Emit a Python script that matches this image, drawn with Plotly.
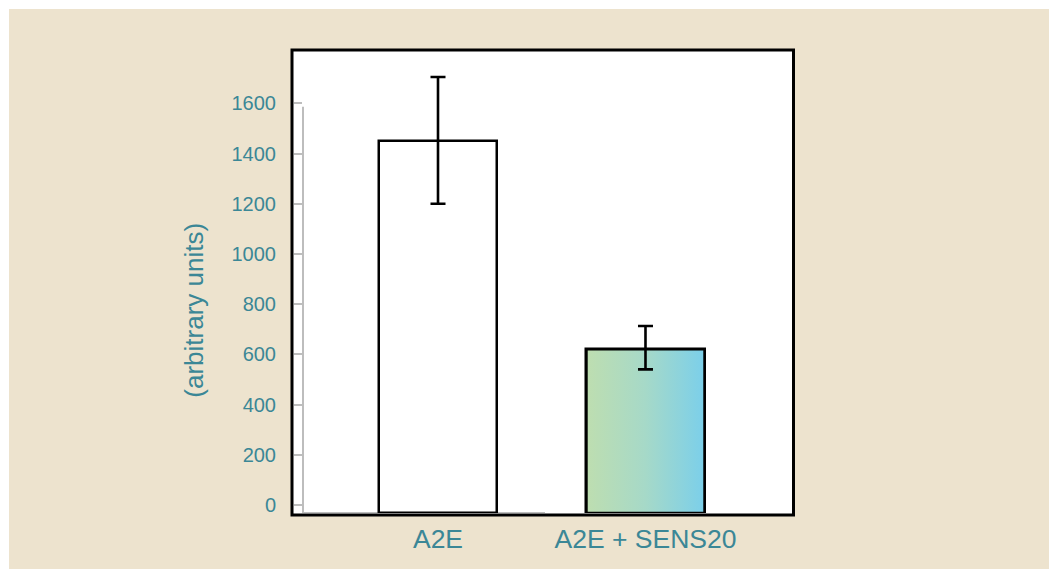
import plotly.graph_objects as go

# ---- data ----
categories = ["A2E", "A2E + SENS20"]
values = [1450, 620]
err_plus = [255, 93]
err_minus = [250, 80]
tick_values = [0, 200, 400, 600, 800, 1000, 1200, 1400, 1600]
y_title = "(arbitrary units)"

# ---- style constants ----
BEIGE = "#EDE3CE"
TEAL = "#3B8796"
GREY = "#BDBDBD"
FONT = "Liberation Sans, Arial, Helvetica, sans-serif"
W, H = 1049, 569
L, R, T, B = 303, 255, 50, 56
PW, PH = W - L - R, H - T - B
Y_FLOOR = -31.9
Y_TOP = 1812.3
X_RANGE = [-0.6506, 1.7157]
BAR_WIDTH = 0.569

xs = list(range(len(categories)))


def px_x(p):
    return (p - L) / PW


def px_y(p):
    return (H - B - p) / PH


fig = go.Figure()

# bars (white bar + outline)
fig.add_trace(go.Bar(
    x=xs, y=[v - Y_FLOOR for v in values], base=Y_FLOOR, width=BAR_WIDTH,
    marker=dict(color=["white", "#A6D9C8"], line=dict(color="black", width=2.5)),
    hoverinfo="skip", showlegend=False,
))

# gradient fill for the second bar
i = 1
x0, x1 = xs[i] - BAR_WIDTH / 2, xs[i] + BAR_WIDTH / 2
fig.add_trace(go.Scatter(
    x=[x0, x1, x1, x0, x0],
    y=[Y_FLOOR, Y_FLOOR, values[i], values[i], Y_FLOOR],
    mode="lines", fill="toself",
    fillgradient=dict(type="horizontal",
                      colorscale=[[0, "#BEDEB0"], [0.5, "#A6D9C8"], [1, "#7BCFEA"]]),
    line=dict(color="black", width=2.5),
    hoverinfo="skip", showlegend=False,
))

# error bars
fig.add_trace(go.Scatter(
    x=xs, y=values, mode="markers",
    marker=dict(size=1, color="rgba(0,0,0,0)"),
    error_y=dict(type="data", symmetric=False, array=err_plus, arrayminus=err_minus,
                 color="black", thickness=2.6, width=7.5),
    hoverinfo="skip", showlegend=False,
))

shapes = [
    # white strips at top and left
    dict(type="rect", xref="paper", yref="paper", x0=px_x(-10), x1=px_x(W + 10),
         y0=px_y(9), y1=px_y(-10), fillcolor="white", line=dict(width=0), layer="below"),
    dict(type="rect", xref="paper", yref="paper", x0=px_x(-10), x1=px_x(9),
         y0=px_y(H + 10), y1=px_y(-10), fillcolor="white", line=dict(width=0), layer="below"),
    # white frame interior
    dict(type="rect", xref="paper", yref="paper", x0=px_x(292), x1=px_x(793.5),
         y0=px_y(515), y1=px_y(50), fillcolor="white", line=dict(width=0), layer="below"),
    # grey axis line and baseline
    dict(type="line", xref="paper", yref="y", x0=0, x1=0, y0=Y_FLOOR, y1=1586,
         line=dict(color=GREY, width=2), layer="below"),
    dict(type="line", xref="paper", yref="y", x0=0, x1=px_x(545), y0=Y_FLOOR, y1=Y_FLOOR,
         line=dict(color=GREY, width=2), layer="below"),
    # black frame
    dict(type="rect", xref="paper", yref="paper", x0=px_x(292), x1=px_x(793.5),
         y0=px_y(515), y1=px_y(50), line=dict(color="black", width=3), layer="above"),
]

fig.update_layout(
    width=W, height=H,
    margin=dict(l=L, r=R, t=T, b=B, pad=0),
    paper_bgcolor=BEIGE, plot_bgcolor="white",
    font=dict(family=FONT, color=TEAL),
    shapes=shapes,
    showlegend=False,
    bargap=0,
    annotations=[dict(
        text=y_title, textangle=-90, xref="paper", yref="paper",
        x=px_x(193.7), y=px_y(310), xanchor="center", yanchor="middle",
        showarrow=False, font=dict(size=26, color=TEAL, family=FONT),
    )],
)

fig.update_xaxes(
    range=X_RANGE, tickvals=xs, ticktext=categories, showgrid=False, zeroline=False,
    showline=False, ticks="", tickfont=dict(size=26.5, color=TEAL, family=FONT),
    ticklabelstandoff=7, fixedrange=True,
)
fig.update_yaxes(
    range=[Y_FLOOR, Y_TOP], tickvals=tick_values, showgrid=False, zeroline=False,
    showline=False, ticks="outside", ticklen=8, tickwidth=1.5, tickcolor=GREY,
    tickfont=dict(size=20, color=TEAL, family=FONT), ticklabelstandoff=14,
    fixedrange=True,
)

fig.write_html("out.html", config={"displayModeBar": False})
